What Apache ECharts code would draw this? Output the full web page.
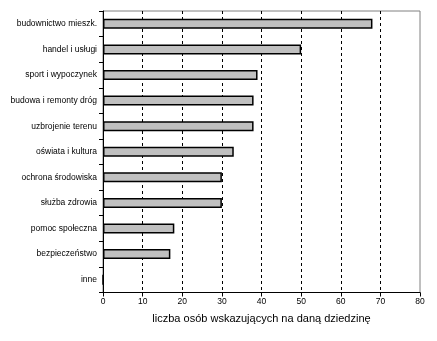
<!DOCTYPE html>
<html><head><meta charset="utf-8">
<script src="https://cdn.jsdelivr.net/npm/echarts@6/dist/echarts.min.js"></script>
<style>html,body{margin:0;padding:0;background:#fff}#c{width:437px;height:341px}</style>
</head><body><div id="c"></div>
<script>
const categories = ["budownictwo mieszk.", "handel i usługi", "sport i wypoczynek", "budowa i remonty dróg", "uzbrojenie terenu", "oświata i kultura", "ochrona środowiska", "służba zdrowia", "pomoc społeczna", "bezpieczeństwo", "inne"];
const values = [68, 50, 39, 38, 38, 33, 30, 30, 18, 17, 0];
const xTicks = [0, 10, 20, 30, 40, 50, 60, 70, 80];
const axisTitle = "liczba osób wskazujących na daną dziedzinę";

const chart = echarts.init(document.getElementById('c'), null, {renderer: 'canvas'});
chart.setOption({
  animation: false,
  grid: {left: 103, top: 11, right: 17, bottom: 48.5, show: true, borderColor: '#808080', borderWidth: 1, containLabel: false},
  xAxis: {
    type: 'value', min: xTicks[0], max: xTicks[xTicks.length - 1], interval: 10,
    name: axisTitle, nameLocation: 'middle', nameGap: 21,
    nameTextStyle: {fontFamily: 'Liberation Sans', fontSize: 11, color: '#000'},
    axisLine: {show: true, lineStyle: {color: '#000', width: 1}},
    axisTick: {show: true, length: 4, lineStyle: {color: '#000'}},
    axisLabel: {fontFamily: 'Liberation Sans', fontSize: 8.5, color: '#000', margin: 5},
    splitLine: {show: true, showMinLine: false, showMaxLine: false, lineStyle: {color: '#000', type: [3, 3], width: 1}}
  },
  yAxis: {
    type: 'category', data: categories, inverse: true,
    axisLine: {show: true, lineStyle: {color: '#000', width: 1}},
    axisTick: {show: true, length: 4, lineStyle: {color: '#000'}},
    axisLabel: {fontFamily: 'Liberation Sans', fontSize: 8.5, color: '#000', margin: 6},
    splitLine: {show: false}
  },
  series: [{
    type: 'bar', data: values, barWidth: 10,
    itemStyle: {color: '#c0c0c0', borderColor: '#000', borderWidth: 1.5}
  }]
});
</script></body></html>
